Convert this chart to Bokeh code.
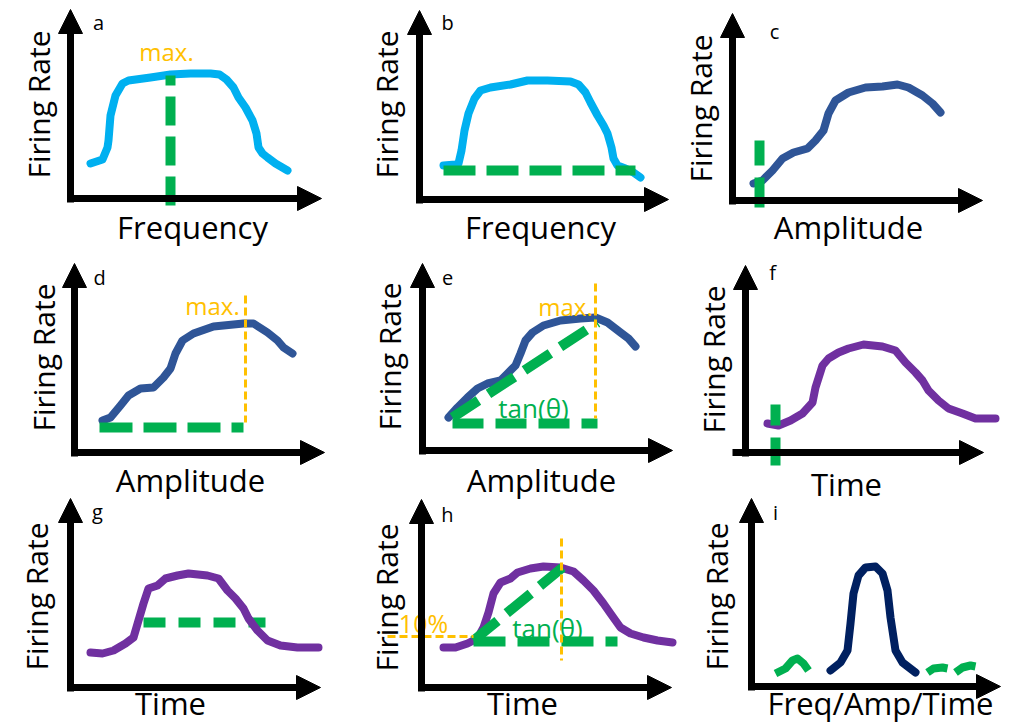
import math
from bokeh.plotting import figure
from bokeh.models import Range1d, Arrow, NormalHead, ColumnDataSource
from bokeh.core.properties import value
from bokeh.embed import file_html
from bokeh.resources import INLINE

# ---------------- data (schematic coordinates) -------------
# axes of the nine panels a..i
ay_x = [70, 419, 732, 74, 422, 745, 70, 421, 751]
ay_y0 = [202, 203, 204, 456, 454, 456, 691, 691, 690]
ay_ytip = [9, 10, 13, 263, 263, 265, 498, 499, 498]
ax_y = [198, 199, 200, 452, 450, 452, 687, 687, 686]
ax_x0 = [67, 416, 729, 71, 419, 732, 67, 418, 748]
ax_xtip = [321, 668, 982, 324, 672, 983, 320, 671, 1000]

# panel letters (baseline positions)
letters = ["a", "b", "c", "d", "e", "f", "g", "h", "i"]
letter_x = [98, 447, 774, 99, 447, 772, 97, 447, 775]
letter_y = [28, 28, 37, 283, 283, 278, 517, 520, 518]

# y-axis titles (rotated; x = baseline)
ytitle = ["Firing Rate"] * 9
ytitle_x = [47, 395, 709, 52, 398, 722, 45, 395, 725]
ytitle_y = [104, 104, 108, 357, 356, 359, 596, 597, 596]

# x-axis titles (baseline positions)
xtitles = ["Frequency", "Frequency", "Amplitude", "Amplitude", "Amplitude",
           "Time", "Time", "Time", "Freq/Amp/Time"]
xtitle_x = [192, 540, 848, 190, 541, 846, 170, 522, 880]
xtitle_y = [235, 235, 235, 488, 488, 492, 711, 711, 711]

# tuning curves
a_x = [90, 102, 107, 108, 110, 115, 122, 128, 150, 170, 190, 210, 219, 226, 233, 238, 245, 252, 256, 258, 262, 267, 275, 287]
a_y = [163, 159, 147, 140, 115, 95, 83, 80, 77, 74, 73, 73, 74, 79, 87, 97, 107, 120, 133, 147, 153, 157, 163, 170]
b_x = [443, 455, 458, 461, 464, 468, 474, 480, 490, 510, 527, 547, 570, 578, 585, 590, 597, 603, 607, 611, 613, 617, 625, 633, 640]
b_y = [165, 164, 163, 150, 130, 113, 98, 90, 87, 84, 80, 80, 81, 84, 92, 102, 115, 125, 133, 147, 158, 165, 168, 172, 177]
c_x = [753, 762, 772, 782, 793, 807, 815, 823, 828, 835, 848, 865, 882, 897, 908, 922, 932, 940]
c_y = [183, 180, 170, 158, 152, 148, 140, 130, 113, 100, 92, 87, 86, 84, 87, 95, 103, 112]
d_x = [102, 110, 120, 128, 140, 153, 163, 170, 175, 182, 193, 213, 243, 253, 267, 277, 283, 292]
d_y = [420, 417, 405, 395, 388, 387, 377, 368, 353, 340, 333, 326, 323, 323, 332, 340, 347, 353]
e_x = [448, 457, 467, 477, 487, 500, 507, 515, 520, 525, 532, 543, 560, 580, 595, 607, 620, 628, 635]
e_y = [417, 407, 397, 388, 383, 380, 373, 365, 353, 340, 332, 325, 320, 318, 317, 322, 332, 338, 346]
f_x = [767, 778, 790, 802, 812, 815, 822, 828, 838, 848, 863, 882, 895, 905, 915, 922, 928, 938, 948, 962, 975, 995]
f_y = [423, 425, 420, 413, 402, 387, 365, 358, 352, 348, 344, 346, 350, 362, 372, 380, 390, 400, 408, 413, 418, 418]
g_x = [90, 102, 113, 125, 133, 138, 143, 148, 157, 165, 177, 188, 207, 218, 227, 235, 243, 248, 257, 267, 280, 297, 318]
g_y = [652, 653, 650, 643, 637, 620, 603, 588, 585, 578, 575, 573, 575, 578, 590, 598, 608, 618, 630, 640, 645, 647, 647]
h_x = [443, 455, 467, 477, 483, 488, 493, 500, 510, 517, 530, 543, 560, 573, 583, 593, 603, 610, 620, 630, 643, 657, 672]
h_y = [647, 647, 643, 638, 627, 612, 593, 582, 578, 572, 568, 566, 567, 571, 580, 590, 603, 613, 627, 633, 637, 640, 642]
i_x = [830, 840, 847, 850, 853, 858, 865, 875, 882, 887, 890, 895, 902, 915]
i_y = [670, 662, 650, 623, 593, 575, 567, 566, 573, 590, 617, 650, 662, 672]

# green measurement marks
ga_x, ga_y = [170, 170], [205, 75]
gb_x, gb_y = [443, 635], [170, 170]
gc_x, gc_y = [759, 759], [207, 140]
gd_x, gd_y = [99, 243], [427, 427]
ge_x, ge_y = [452, 597], [423, 423]
ge2_x, ge2_y = [452, 597], [417, 322]
gf_x, gf_y = [775, 775], [465, 404]
gg_x, gg_y = [143, 265], [622, 622]
gh_x, gh_y = [473, 617], [641, 641]
gh2_x, gh2_y = [473, 562], [640, 567]
gi_xs = [[775, 785, 792, 797, 803, 808], [927, 933, 942, 947], [955, 962, 970, 975]]
gi_ys = [[673, 668, 660, 658, 663, 670], [672, 668, 667, 668], [672, 667, 665, 666]]

# orange guide lines
od_x, od_y = [245, 245], [295, 422]
oe_x, oe_y = [595, 595], [283, 418]
oh_x, oh_y = [561, 561], [538, 660]
oh2_x, oh2_y = [387, 473], [636, 636]

# annotations (baseline positions)
max_x, max_y = [166, 212, 565], [58, 312, 313]
tan_x, tan_y = [533, 547], [415, 635]
pct_x, pct_y = [423], [630]

LIGHT_BLUE = "#00B0F0"
BLUE = "#2F5597"
PURPLE = "#7030A0"
NAVY = "#002060"
GREEN = "#00B050"
ORANGE = "#FFC000"
FONT = value("Open Sans")
SHIFT = 0.29  # baseline correction, in em

W, H = 1012, 724
p = figure(width=W, height=H, x_range=Range1d(0, W), y_range=Range1d(H, 0),
           output_backend="svg", toolbar_location=None, x_axis_type=None, y_axis_type=None,
           min_border=0)
p.grid.visible = False
p.outline_line_color = None
p.background_fill_color = "white"

CW = 8
def curve(x, y, color):
    p.line(x, y, line_color=color, line_width=CW, line_join="round", line_cap="round")

def gdash(x, y, dash):
    p.line(x, y, line_color=GREEN, line_width=10, line_dash=dash, line_cap="butt")

def odash(x, y):
    p.line(x, y, line_color=ORANGE, line_width=3, line_dash="8 4")

# panel g: green under the curve
gdash(gg_x, gg_y, "22 13")

curve(a_x, a_y, LIGHT_BLUE)
curve(b_x, b_y, LIGHT_BLUE)
curve(c_x, c_y, BLUE)
curve(d_x, d_y, BLUE)
curve(e_x, e_y, BLUE)
curve(f_x, f_y, PURPLE)
curve(g_x, g_y, PURPLE)
curve(h_x, h_y, PURPLE)
curve(i_x, i_y, NAVY)

gdash(ga_x, ga_y, "29 11")
gdash(gb_x, gb_y, "32 11")
gdash(gc_x, gc_y, "30 12")
gdash(gd_x, gd_y, "33 11")
gdash(ge_x, ge_y, "31 12")
gdash(ge2_x, ge2_y, "31 12")
gdash(gf_x, gf_y, "28 12")
gdash(gh_x, gh_y, "32 12")
gdash(gh2_x, gh2_y, "31 12")
p.multi_line(gi_xs, gi_ys, line_color=GREEN, line_width=8, line_cap="butt", line_join="round")

odash(od_x, od_y)
odash(oe_x, oe_y)
odash(oh_x, oh_y)
odash(oh2_x, oh2_y)

# axes with arrow heads
ysrc = ColumnDataSource(dict(x0=ay_x, y0=ay_y0, x1=ay_x, y1=ay_ytip))
xsrc = ColumnDataSource(dict(x0=ax_x0, y0=ax_y, x1=ax_xtip, y1=ax_y))
for src in (ysrc, xsrc):
    p.add_layout(Arrow(end=NormalHead(size=24, fill_color="black", line_color="black", line_width=1),
                       x_start="x0", y_start="y0", x_end="x1", y_end="y1", source=src,
                       line_color="black", line_width=7))

def htext(xs, ys, texts, size, color):
    p.text([x for x in xs], [y - SHIFT * size for y in ys], text=texts, text_font=FONT,
           text_font_size=value(f"{size}px"), text_align="center",
           text_baseline="alphabetic", text_color=color)

# texts
htext(letter_x, letter_y, letters, 20, "black")
p.text([x - SHIFT * 30 for x in ytitle_x], ytitle_y, text=ytitle, text_font=FONT,
       text_font_size=value("30px"), text_align="center", text_baseline="alphabetic",
       text_color="black", angle=math.pi / 2)
htext(xtitle_x, xtitle_y, xtitles, 31, "black")
htext(max_x, max_y, ["max."] * 3, 24, ORANGE)
htext(tan_x, tan_y, ["tan(θ)"] * 2, 26, GREEN)
htext(pct_x, pct_y, ["10%"], 25, ORANGE)

open("out.html", "w").write(file_html(p, INLINE))
